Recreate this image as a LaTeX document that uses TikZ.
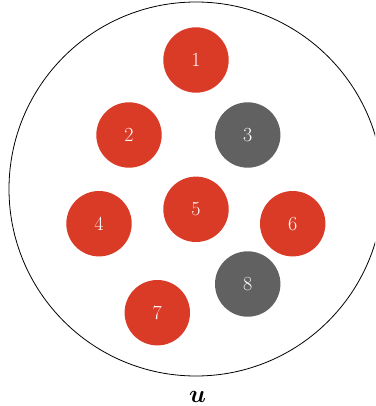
\documentclass[tikz,border=0pt]{standalone}
\usepackage{bm}
\definecolor{ballred}{RGB}{218,59,39}
\definecolor{ballgray}{RGB}{97,97,97}
\tikzset{
  ball/.style={circle, minimum size=65.4pt, inner sep=0pt, text=white,
    font=\fontsize{20}{24}\selectfont},
  redball/.style={ball, fill=ballred},
  grayball/.style={ball, fill=ballgray},
  universe/.style={circle, draw=black, line width=0.8pt, minimum size=374pt, inner sep=0pt}
}
\begin{document}
\begin{tikzpicture}[x=1pt,y=-1pt]
\useasboundingbox (0,0) rectangle (375,406);
\begin{scope}
\clip (0,0) rectangle (375,406);
\node[universe] (U) at (196,189) {};
\end{scope}
\node[redball] (n1) at (196,60) {1};
\node[redball] (n2) at (129,135) {2};
\node[grayball] (n3) at (247.7,135) {3};
\node[redball] (n4) at (99,223.7) {4};
\node[redball] (n5) at (196,209.3) {5};
\node[redball] (n6) at (292.7,223.7) {6};
\node[redball] (n7) at (157.3,312.7) {7};
\node[grayball] (n8) at (247.7,284) {8};
\node[anchor=base, inner sep=0pt] (lab) at (197.5,402.3) {\fontsize{24}{28}\selectfont$\bm{u}$};
\end{tikzpicture}
\end{document}
